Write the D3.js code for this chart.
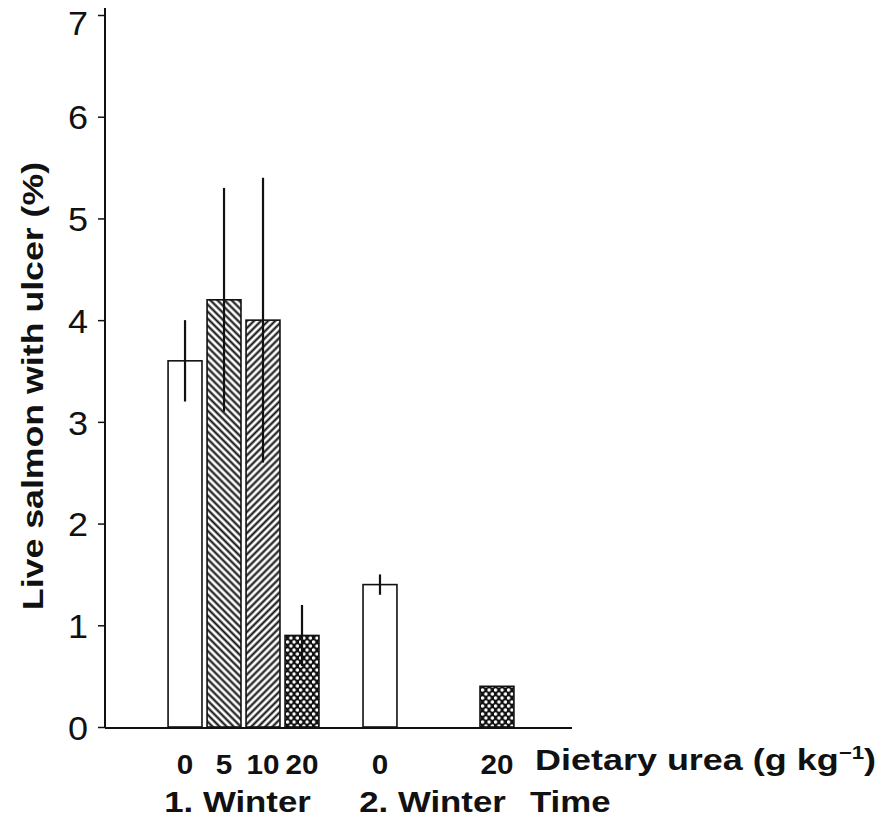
<!DOCTYPE html>
<html>
<head>
<meta charset="utf-8">
<title>Live salmon with ulcer</title>
<script src="https://d3js.org/d3.v7.min.js"></script>
<style>
  body { margin: 0; background: #fff; }
  svg text { font-family: 'Liberation Sans', Arial, Helvetica, sans-serif; fill: #111; }
  .ytick text { font-size: 34px; font-weight: normal; }
  .xtick text { font-size: 28px; font-weight: bold; }
  .lab { font-weight: bold; }
</style>
</head>
<body>
<script>
// data
var groups = ["1. Winter", "2. Winter"];
var doses = ["0", "5", "10", "20"];
var means = [[3.6, 4.2, 4.0, 0.9], [1.4, null, null, 0.4]];
var errLow = [[3.2, 3.1, 2.6, 0.6], [1.3, null, null, null]];
var errHigh = [[4.0, 5.3, 5.4, 1.2], [1.5, null, null, null]];
var yTicks = [0, 1, 2, 3, 4, 5, 6, 7];
var yTitle = "Live salmon with ulcer (%)";
var xTitle = "Dietary urea (g kg";
var timeTitle = "Time";

var W = 882, H = 817;
var svg = d3.select("body").append("svg").attr("width", W).attr("height", H);

// patterns: open, back hatch, forward hatch, dotted crosshatch
var defs = svg.append("defs");
function hatch(id, angle) {
  var p = defs.append("pattern").attr("id", id)
    .attr("patternUnits", "userSpaceOnUse")
    .attr("width", 5).attr("height", 5)
    .attr("patternTransform", "rotate(" + angle + ")");
  p.append("rect").attr("width", 5).attr("height", 5).attr("fill", "#fff");
  p.append("line").attr("x1", 1.5).attr("x2", 1.5).attr("y1", 0).attr("y2", 5)
    .attr("stroke", "#111").attr("stroke-width", 2.1);
}
hatch("back", -45);
hatch("fwd", 45);
var cp = defs.append("pattern").attr("id", "cross")
  .attr("patternUnits", "userSpaceOnUse").attr("width", 6.5).attr("height", 8);
cp.append("rect").attr("width", 6.5).attr("height", 8).attr("fill", "#111");
cp.append("circle").attr("cx", 1.6).attr("cy", 2).attr("r", 1.7).attr("fill", "#fff");
cp.append("circle").attr("cx", 4.85).attr("cy", 6).attr("r", 1.7).attr("fill", "#fff");
var fills = { "0": "#fff", "5": "url(#back)", "10": "url(#fwd)", "20": "url(#cross)" };

// slots: 4 doses per winter with one empty slot between
var slots = [];
groups.forEach(function(g, gi) {
  if (gi > 0) slots.push("gap");
  doses.forEach(function(d) { slots.push(g + "|" + d); });
});

var bars = [];
groups.forEach(function(g, gi) {
  doses.forEach(function(d, di) {
    if (means[gi][di] == null) return;
    bars.push({ key: g + "|" + d, group: g, dose: d, v: means[gi][di],
                lo: errLow[gi][di], hi: errHigh[gi][di] });
  });
});

var x = d3.scaleBand().domain(slots).range([163, 519]).padding(0.13);
var y = d3.scaleLinear().domain([0, 7]).range([727, 15]);
var axisX = 105, axisRight = 572;

// bars
svg.append("g").selectAll("rect")
  .data(bars).enter().append("rect")
  .attr("x", function(d) { return x(d.key); })
  .attr("y", function(d) { return y(d.v); })
  .attr("width", x.bandwidth())
  .attr("height", function(d) { return y(0) - y(d.v); })
  .attr("fill", function(d) { return fills[d.dose]; })
  .attr("stroke", "#111").attr("stroke-width", 1.6);

// error bars
svg.append("g").selectAll("line")
  .data(bars.filter(function(d) { return d.lo != null; }))
  .enter().append("line")
  .attr("x1", function(d) { return x(d.key) + x.bandwidth() / 2; })
  .attr("x2", function(d) { return x(d.key) + x.bandwidth() / 2; })
  .attr("y1", function(d) { return y(d.lo); })
  .attr("y2", function(d) { return y(d.hi); })
  .attr("stroke", "#111").attr("stroke-width", 2.2);

// y axis
var gy = svg.append("g").attr("class", "ytick")
  .attr("transform", "translate(" + axisX + ",0)")
  .call(d3.axisLeft(y).tickValues(yTicks).tickSize(7).tickPadding(9).tickFormat(d3.format("d")));
gy.select(".domain").remove();
gy.selectAll(".tick line").attr("stroke", "#111").attr("stroke-width", 1.5);
gy.selectAll(".tick text").attr("transform", "scale(1.06,1)")
  .attr("dy", function(d) { return d === 7 ? "0.58em" : "0.36em"; });
svg.append("line").attr("x1", axisX).attr("x2", axisX)
  .attr("y1", y(7) - 7).attr("y2", y(0) + 1)
  .attr("stroke", "#111").attr("stroke-width", 2);

// x axis
svg.append("line").attr("x1", axisX).attr("x2", axisRight)
  .attr("y1", y(0) + 1).attr("y2", y(0) + 1)
  .attr("stroke", "#111").attr("stroke-width", 2);
var gx = svg.append("g").attr("class", "xtick")
  .attr("transform", "translate(0," + (y(0) + 1) + ")")
  .call(d3.axisBottom(x).tickValues(bars.map(function(d) { return d.key; }))
    .tickSize(0).tickPadding(26)
    .tickFormat(function(k) { return k.split("|")[1]; }));
gx.select(".domain").remove();
gx.selectAll(".tick text").attr("transform", "scale(1.06,1)");

// group labels
svg.append("g").selectAll("text")
  .data(groups).enter().append("text")
  .attr("class", "lab")
  .attr("text-anchor", "middle")
  .attr("font-size", 30)
  .attr("transform", function(g) {
    var cx = (x(g + "|" + doses[0]) + x(g + "|" + doses[3]) + x.bandwidth()) / 2;
    return "translate(" + (cx - 6) + ",812) scale(1.16,1)";
  })
  .text(function(g) { return g; });

// axis titles
var xt = svg.append("text").attr("class", "lab").attr("font-size", 29)
  .attr("transform", "translate(535,770) scale(1.24,1)");
xt.append("tspan").text(xTitle);
xt.append("tspan").attr("font-size", 18).attr("dy", -11).text("\u22121");
xt.append("tspan").attr("dy", 11).text(")");

svg.append("text").attr("class", "lab").attr("font-size", 30)
  .attr("transform", "translate(530,812) scale(1.16,1)")
  .text(timeTitle);

svg.append("text").attr("class", "lab").attr("font-size", 30)
  .attr("text-anchor", "middle")
  .attr("transform", "translate(43,386) rotate(-90) scale(1.19,1)")
  .text(yTitle);
</script>
</body>
</html>
